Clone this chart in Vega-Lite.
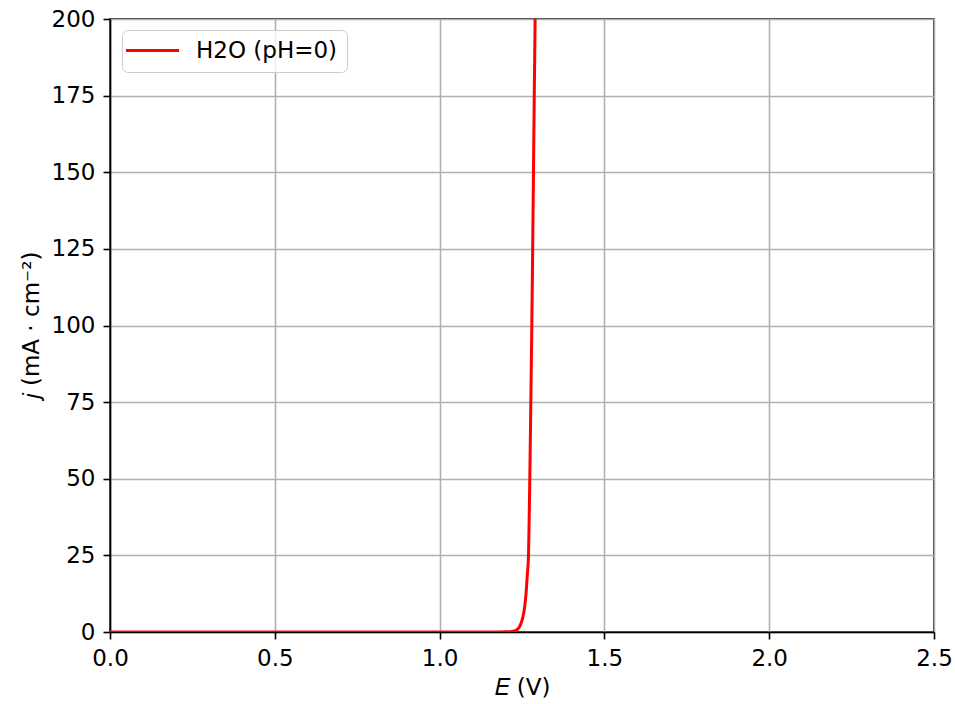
{
  "$schema": "https://vega.github.io/schema/vega-lite/v6.json",
  "autosize": {"type": "none"},
  "padding": {"left": 110, "top": 19, "right": 21, "bottom": 73},
  "width": 824,
  "height": 613,
  "background": "white",
  "config": {
    "font": "DejaVu Sans",
    "view": {"stroke": "black", "strokeWidth": 1.6},
    "axis": {
      "labelFont": "DejaVu Sans",
      "labelFontSize": 23,
      "labelColor": "black",
      "labelFlush": false,
      "titleFont": "DejaVu Sans",
      "titleFontSize": 23,
      "titleFontWeight": "normal",
      "titleColor": "black",
      "domainColor": "black",
      "domainWidth": 1.6,
      "tickColor": "black",
      "tickWidth": 1.6,
      "tickSize": 7,
      "gridColor": "#b0b0b0",
      "gridWidth": 1.6,
      "gridOpacity": 1
    }
  },
  "data": {
    "values": [
      {"E": 0.0, "j": 0.0, "s": "H2O (pH=0)"},
      {"E": 0.5, "j": 0.0, "s": "H2O (pH=0)"},
      {"E": 1.0, "j": 0.0, "s": "H2O (pH=0)"},
      {"E": 1.1, "j": 0.002, "s": "H2O (pH=0)"},
      {"E": 1.15, "j": 0.008, "s": "H2O (pH=0)"},
      {"E": 1.18, "j": 0.02, "s": "H2O (pH=0)"},
      {"E": 1.2, "j": 0.05, "s": "H2O (pH=0)"},
      {"E": 1.215, "j": 0.12, "s": "H2O (pH=0)"},
      {"E": 1.2273, "j": 0.35, "s": "H2O (pH=0)"},
      {"E": 1.2374, "j": 1.0, "s": "H2O (pH=0)"},
      {"E": 1.2455, "j": 2.4, "s": "H2O (pH=0)"},
      {"E": 1.2525, "j": 4.8, "s": "H2O (pH=0)"},
      {"E": 1.2586, "j": 8.6, "s": "H2O (pH=0)"},
      {"E": 1.2626, "j": 13.0, "s": "H2O (pH=0)"},
      {"E": 1.2657, "j": 18.0, "s": "H2O (pH=0)"},
      {"E": 1.2697, "j": 25.0, "s": "H2O (pH=0)"},
      {"E": 1.2718, "j": 37.0, "s": "H2O (pH=0)"},
      {"E": 1.2737, "j": 50.0, "s": "H2O (pH=0)"},
      {"E": 1.2768, "j": 75.0, "s": "H2O (pH=0)"},
      {"E": 1.2798, "j": 100.0, "s": "H2O (pH=0)"},
      {"E": 1.2824, "j": 125.0, "s": "H2O (pH=0)"},
      {"E": 1.2848, "j": 150.0, "s": "H2O (pH=0)"},
      {"E": 1.2872, "j": 175.0, "s": "H2O (pH=0)"},
      {"E": 1.2898, "j": 200.0, "s": "H2O (pH=0)"}
    ]
  },
  "mark": {"type": "line", "strokeWidth": 3, "clip": true, "interpolate": "monotone"},
  "encoding": {
    "x": {
      "field": "E", "type": "quantitative",
      "scale": {"domain": [0, 2.5], "nice": false, "zero": false},
      "axis": {"values": [0, 0.5, 1.0, 1.5, 2.0, 2.5], "format": ".1f", "title": "𝐸 (V)", "labelPadding": 8, "titlePadding": 6}
    },
    "y": {
      "field": "j", "type": "quantitative",
      "scale": {"domain": [0, 200], "nice": false},
      "axis": {"values": [0, 25, 50, 75, 100, 125, 150, 175, 200], "format": "d", "title": "𝑗 (mA · cm⁻²)", "labelPadding": 8, "titlePadding": 8}
    },
    "color": {
      "field": "s", "type": "nominal",
      "scale": {"range": ["#ff0000"]},
      "legend": {
        "title": null,
        "orient": "none",
        "legendX": 12,
        "legendY": 11,
        "symbolType": "M-3.25,0L3.25,0",
        "symbolSize": 267,
        "symbolOffset": 10,
        "symbolStrokeWidth": 3,
        "labelFontSize": 23,
        "labelFont": "DejaVu Sans",
        "labelColor": "black",
        "labelOffset": 32,
        "padding": 9,
        "cornerRadius": 6,
        "strokeColor": "#cccccc",
        "fillColor": "rgba(255,255,255,0.8)"
      }
    }
  }
}
